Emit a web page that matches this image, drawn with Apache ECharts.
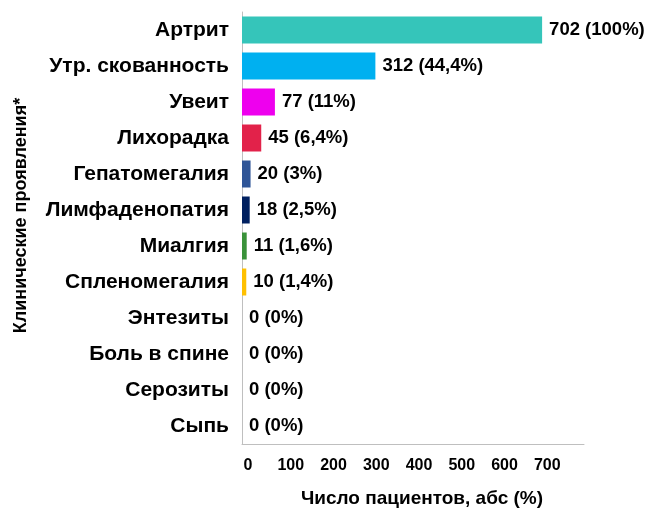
<!DOCTYPE html>
<html>
<head>
<meta charset="utf-8">
<script src="https://cdn.jsdelivr.net/npm/echarts@6/dist/echarts.min.js"></script>
<style>
  html, body { margin: 0; padding: 0; background: #fff; }
  #chart { width: 650px; height: 513px; }
</style>
</head>
<body>
<div id="chart"></div>
<script>
// categories, top to bottom
const categories = ['Артрит', 'Утр. скованность', 'Увеит', 'Лихорадка', 'Гепатомегалия',
  'Лимфаденопатия', 'Миалгия', 'Спленомегалия', 'Энтезиты', 'Боль в спине', 'Серозиты', 'Сыпь'];
const counts = [702, 312, 77, 45, 20, 18, 11, 10, 0, 0, 0, 0];
const percents = ['100%', '44,4%', '11%', '6,4%', '3%', '2,5%', '1,6%', '1,4%', '0%', '0%', '0%', '0%'];
const barColors = ['#35c5ba', '#00b0f0', '#ee00ee', '#e2224a', '#2f5597',
  '#002060', '#3a923a', '#ffc000', '#ffffff', '#ffffff', '#ffffff', '#ffffff'];
const xTicks = [0, 100, 200, 300, 400, 500, 600, 700];

const font = '"Liberation Sans", Arial, sans-serif';

let myChart = echarts.init(document.getElementById('chart'));
let option = {
  backgroundColor: '#fff',
  animation: false,
  grid: {
    left: 242,
    right: 66,
    top: 12,
    bottom: 65
  },
  xAxis: {
    type: 'value',
    min: 0,
    max: 800,
    interval: 100,
    name: 'Число пациентов, абс (%)',
    nameLocation: 'middle',
    nameGap: 45,
    nameTextStyle: {
      fontFamily: font,
      fontWeight: 'bold',
      fontSize: 19,
      color: '#000',
      padding: [0, 0, 0, 18]
    },
    axisLine: { show: true, lineStyle: { color: '#bfbfbf', width: 1 } },
    axisTick: { show: false },
    splitLine: { show: false },
    axisLabel: {
      margin: 14,
      fontFamily: font,
      fontWeight: 'bold',
      fontSize: 16,
      color: '#000',
      padding: [0, 0, 0, 12],
      formatter: function(v){
        return xTicks.indexOf(v) >= 0 ? String(v) : '';
      }
    }
  },
  yAxis: {
    type: 'category',
    inverse: true,
    data: categories,
    name: 'Клинические проявления*',
    nameLocation: 'middle',
    nameGap: 212,
    nameRotate: 90,
    nameTextStyle: {
      fontFamily: font,
      fontWeight: 'bold',
      fontSize: 18,
      color: '#000',
      padding: [0, 0, 0, 25]
    },
    axisLine: { show: true, lineStyle: { color: '#bfbfbf', width: 1 } },
    axisTick: { show: false },
    axisLabel: {
      margin: 13,
      fontFamily: font,
      fontWeight: 'bold',
      fontSize: 21,
      color: '#000'
    }
  },
  series: [
    {
      type: 'bar',
      barWidth: '75%',
      data: counts.map(function(v, i){
        return { value: v, itemStyle: { color: barColors[i] } };
      }),
      label: {
        show: true,
        position: 'right',
        distance: 7,
        fontFamily: font,
        fontWeight: 'bold',
        fontSize: 18.5,
        color: '#000',
        formatter: function(p){
          return counts[p.dataIndex] + ' (' + percents[p.dataIndex] + ')';
        }
      }
    }
  ]
};
myChart.setOption(option);
</script>
</body>
</html>
